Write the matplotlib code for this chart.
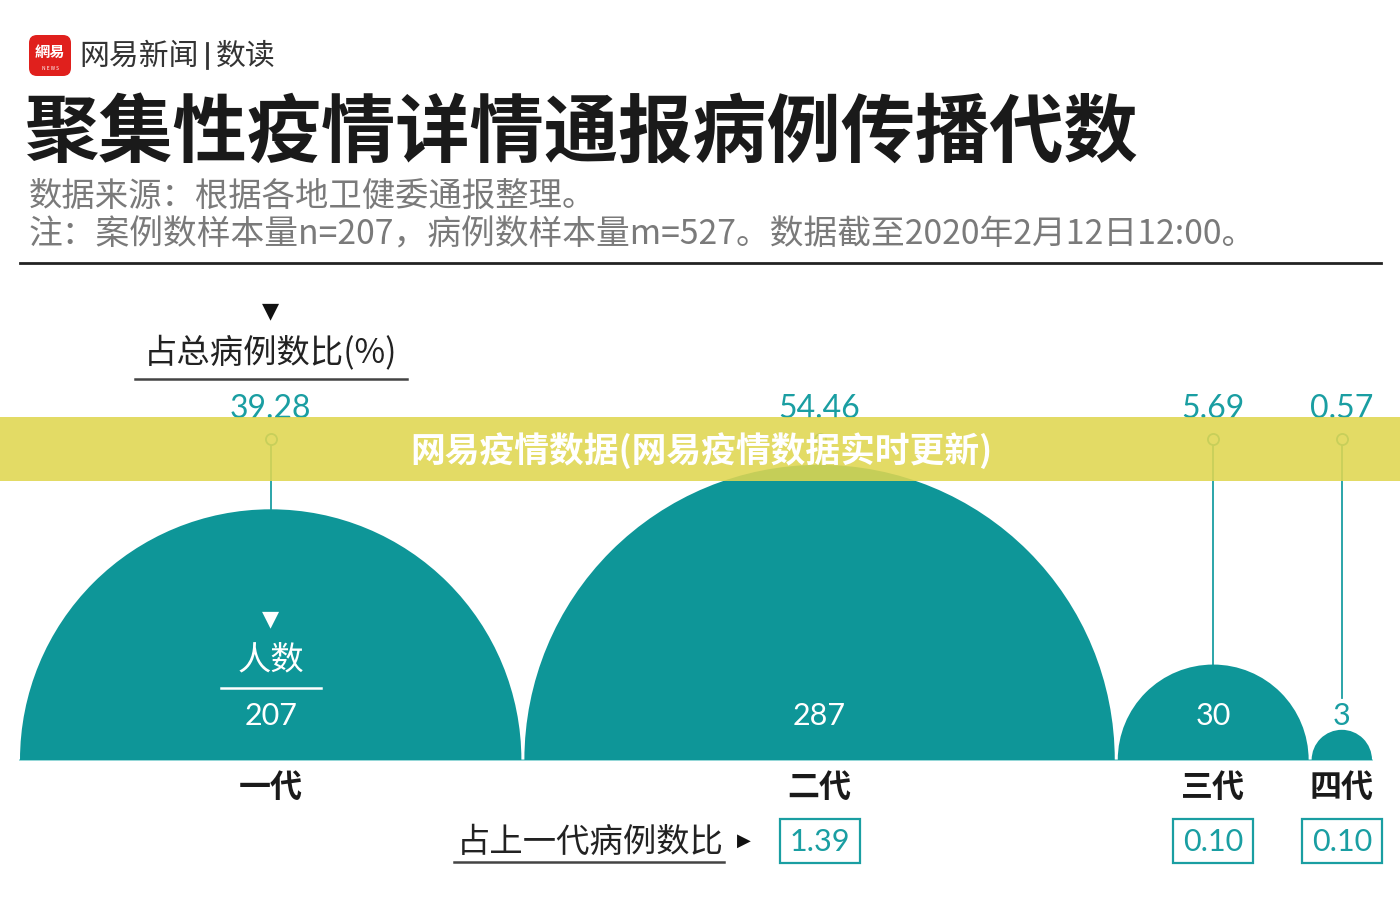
import numpy as np
import matplotlib
matplotlib.use("Agg")
import matplotlib.pyplot as plt
from matplotlib.patches import Wedge, Rectangle, FancyBboxPatch

plt.rcParams['font.family'] = ['Noto Sans CJK SC', 'DejaVu Sans']

# data
generations = ["一代", "二代", "三代", "四代"]
counts = [207, 287, 30, 3]
share_total = [39.28, 54.46, 5.69, 0.57]
share_prev = [None, 1.39, 0.10, 0.10]

TEAL = '#0e9698'
TEAL_TXT = '#1a9ea2'
NUM_FONT = ['Lato', 'DejaVu Sans']

fig = plt.figure(figsize=(14, 8.98), dpi=100)
ax = fig.add_axes([0, 0, 1, 1])
ax.set_xlim(0, 1400)
ax.set_ylim(898, 0)
ax.axis('off')

# header
logo = FancyBboxPatch((29, 35), 42, 41, boxstyle="round,pad=0,rounding_size=8",
                      fc='#e0201d', ec='none')
ax.add_patch(logo)
ax.text(50, 52, "網易", color='white', fontsize=11, fontweight='bold', ha='center', va='center')
ax.text(50, 68, "N E W S", color='white', fontsize=3.5, ha='center', va='center')
ax.text(79, 56, "网易新闻", color='#333333', fontsize=21.5, fontweight='medium',
        ha='left', va='center')
ax.plot([207, 207], [43, 68], color='#333333', lw=2)
ax.text(216, 56, "数读", color='#333333', fontsize=21.5, fontweight='medium',
        ha='left', va='center')

ax.text(24, 134, "聚集性疫情详情通报病例传播代数", fontsize=53.5, fontweight='bold',
        color='#1a1a1a', ha='left', va='center')
ax.text(29, 196, "数据来源：根据各地卫健委通报整理。", fontsize=24, color='#7a7a7a',
        ha='left', va='center')
ax.text(29, 235, "注：案例数样本量n=207，病例数样本量m=527。数据截至2020年2月12日12:00。",
        fontsize=24.3, color='#7a7a7a', ha='left', va='center')
ax.plot([20, 1381], [263, 263], color='#222222', lw=2)

# semicircles, area proportional to count
base = 760
x_left, x_right, gap = 20, 1372, 3
sq = np.sqrt(counts)
k = (x_right - x_left - gap * (len(counts) - 1)) / (2 * sq.sum())
radii = k * sq
centers = []
x = x_left
for r in radii:
    centers.append(x + r)
    x += 2 * r + gap

ax.plot([x_left, x_right], [base, base], color='#7fcfd0', lw=1.2, zorder=1)

for i, (cx, r) in enumerate(zip(centers, radii)):
    ax.add_patch(Wedge((cx, base), r, 180, 360, fc=TEAL, ec='none', zorder=2))
    top = base - r
    # percentage label and leader
    ax.text(cx, 409, f"{share_total[i]:.2f}", color=TEAL_TXT, fontsize=23,
            family=NUM_FONT, ha='center', va='center')
    if r > 45:
        ax.plot([cx, cx], [444, top], color=TEAL_TXT, lw=1.3, zorder=1)
        cnt_color = 'white'
    else:
        ax.plot([cx, cx], [444, 698], color=TEAL_TXT, lw=1.3, zorder=1)
        cnt_color = TEAL_TXT
    ax.plot(cx, 439, marker='o', ms=8, mfc='white', mec=TEAL_TXT, mew=1.3, zorder=3)
    ax.text(cx, 716, str(counts[i]), color=cnt_color, fontsize=22,
            family=NUM_FONT, ha='center', va='center', zorder=3)
    ax.text(cx, 788, generations[i], fontsize=23, fontweight='bold', color='#1a1a1a',
            ha='center', va='center')
    if share_prev[i] is not None:
        ax.add_patch(Rectangle((cx - 40, 819), 80, 44, fc='none', ec=TEAL_TXT, lw=1.6))
        ax.text(cx, 842, f"{share_prev[i]:.2f}", color=TEAL_TXT, fontsize=22,
                family=NUM_FONT, ha='center', va='center')

# legend-like annotations
c1 = centers[0]
ax.text(c1, 311, "▼", fontsize=16, color='#111111', ha='center', va='center',
        family=['DejaVu Sans'])
ax.text(c1, 353, "占总病例数比(%)", fontsize=24, color='#222222', ha='center', va='center')
ax.plot([c1 - 136, c1 + 136], [379, 379], color='#444444', lw=1.8)

ax.text(c1, 619, "▼", fontsize=16, color='white', ha='center', va='center',
        family=['DejaVu Sans'], zorder=3)
ax.text(c1, 660, "人数", fontsize=24, color='white', ha='center', va='center', zorder=3)
ax.plot([c1 - 50, c1 + 50], [688, 688], color='white', lw=1.8, zorder=3)

c2 = centers[1]
ax.text(c2 - 96, 842, "占上一代病例数比", fontsize=24, color='#222222',
        ha='right', va='center')
ax.plot([c2 - 366, c2 - 96], [862, 862], color='#444444', lw=1.8)
ax.text(c2 - 76, 841, "▶", fontsize=13, color='#111111', ha='center', va='center',
        family=['DejaVu Sans'])

# watermark banner
ax.add_patch(Rectangle((0, 417), 1400, 64, fc='#e0d650', ec='none', alpha=0.88, zorder=10))
ax.text(701, 451, "网易疫情数据(网易疫情数据实时更新)", fontsize=25, fontweight='bold',
        color='white', ha='center', va='center', zorder=11)

fig.savefig("out.png", dpi=100)
